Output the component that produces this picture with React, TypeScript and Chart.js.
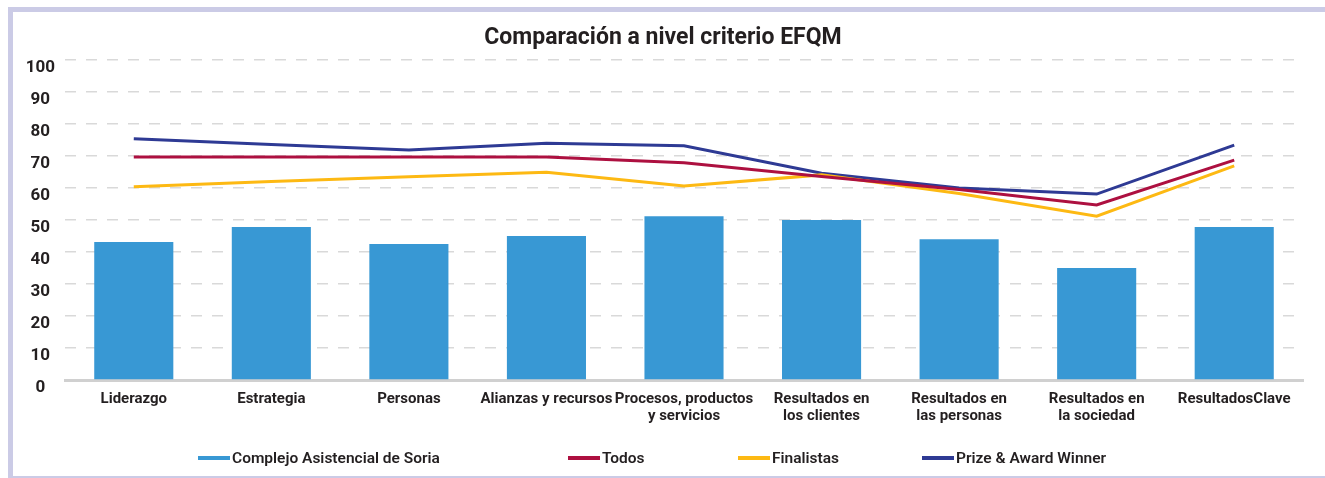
import { useEffect, useRef } from 'react';
import { Chart, registerables } from 'chart.js';

Chart.register(...registerables);

const categories: (string | string[])[] = [
  'Liderazgo',
  'Estrategia',
  'Personas',
  'Alianzas y recursos',
  ['Procesos, productos', 'y servicios'],
  ['Resultados en', 'los clientes'],
  ['Resultados en', 'las personas'],
  ['Resultados en', 'la sociedad'],
  'ResultadosClave',
];

const complejo = [43.1, 47.8, 42.5, 45.0, 51.2, 50.0, 44.0, 35.0, 47.8];
const todos = [69.7, 69.7, 69.7, 69.7, 67.9, 63.6, 59.5, 54.7, 68.7];
const finalistas = [60.4, 62.0, 63.5, 64.9, 60.6, 64.1, 58.3, 51.2, 66.9];
const prize = [75.4, 73.6, 71.9, 74.0, 73.2, 64.6, 60.0, 58.1, 73.4];

const seriesNames = ['Complejo Asistencial de Soria', 'Todos', 'Finalistas', 'Prize & Award Winner'];
const seriesColors = ['#3898d4', '#ad1040', '#fdb913', '#2e3a94'];

const title = 'Comparación a nivel criterio EFQM';
const yMin = 0;
const yMax = 100;
const yStep = 10;

const TEXT = '#231f20';
const FONT = 'Roboto, "Noto Sans", sans-serif';

// x position (canvas px) where each legend entry starts
const legendSlots = [185, 555, 725, 909];

const customLegend = {
  id: 'customLegend',
  afterDraw(chart: any) {
    const ctx = chart.ctx;
    const yc = 446;
    ctx.save();
    chart.data.datasets.forEach((ds: any, i: number) => {
      const x = legendSlots[i];
      ctx.fillStyle = ds.legendColor;
      ctx.fillRect(x, yc - 2, 32, 4);
      ctx.fillStyle = TEXT;
      ctx.font = `600 15.5px ${FONT}`;
      ctx.textAlign = 'left';
      ctx.textBaseline = 'middle';
      ctx.fillText(ds.label, x + 34, yc + 1);
    });
    ctx.restore();
  },
};

export default function App() {
  const ref = useRef<HTMLCanvasElement | null>(null);

  useEffect(() => {
    if (!ref.current) return;
    const lineDs = (label: string, data: number[], color: string) => ({
      type: 'line' as const,
      label,
      data,
      borderColor: color,
      backgroundColor: color,
      legendColor: color,
      borderWidth: 3,
      pointRadius: 0,
      tension: 0,
      fill: false,
    });
    const chart = new Chart(ref.current, {
      type: 'bar',
      data: {
        labels: categories as any,
        datasets: [
          {
            type: 'bar',
            label: seriesNames[0],
            data: complejo,
            backgroundColor: seriesColors[0],
            legendColor: seriesColors[0],
            barPercentage: 0.575,
            categoryPercentage: 1,
          } as any,
          lineDs(seriesNames[1], todos, seriesColors[1]) as any,
          lineDs(seriesNames[2], finalistas, seriesColors[2]) as any,
          lineDs(seriesNames[3], prize, seriesColors[3]) as any,
        ],
      },
      options: {
        animation: false,
        responsive: false,
        layout: { padding: { left: 10, right: 22, top: 0, bottom: 0 } },
        plugins: {
          legend: { display: false },
          tooltip: { enabled: false },
          title: {
            display: true,
            text: title,
            color: TEXT,
            font: { family: FONT, size: 23, weight: 'bold' },
            padding: { top: 12, bottom: 8.4 },
          },
        },
        scales: {
          x: {
            grid: { display: false },
            border: { display: true, color: '#d0d0d0', width: 3 },
            ticks: {
              color: TEXT,
              font: { family: FONT, size: 15, weight: 'bold', lineHeight: 1.1 },
              padding: 3,
              maxRotation: 0,
              autoSkip: false,
            },
            afterFit: (s: any) => {
              s.height = 96;
            },
          },
          y: {
            min: yMin,
            max: yMax,
            grid: { color: '#d9d9d9', lineWidth: 1.5, drawTicks: false },
            border: { display: false, dash: [11, 10] },
            ticks: {
              stepSize: yStep,
              color: TEXT,
              font: { family: FONT, size: 17, weight: 'bold' },
              padding: 10,
              crossAlign: 'center',
              labelOffset: 8,
            },
            afterFit: (s: any) => {
              s.width = 42;
            },
          },
        },
      },
      plugins: [customLegend],
    });
    return () => chart.destroy();
  }, []);

  return (
    <div
      style={{
        position: 'fixed',
        left: 8,
        top: 7,
        width: 1312,
        height: 464,
        borderStyle: 'solid',
        borderColor: '#cbcbe6',
        borderWidth: '5px 0 5px 5px',
        background: '#fff',
      }}
    >
      <canvas ref={ref} width={1312} height={464} style={{ display: 'block' }} />
    </div>
  );
}
